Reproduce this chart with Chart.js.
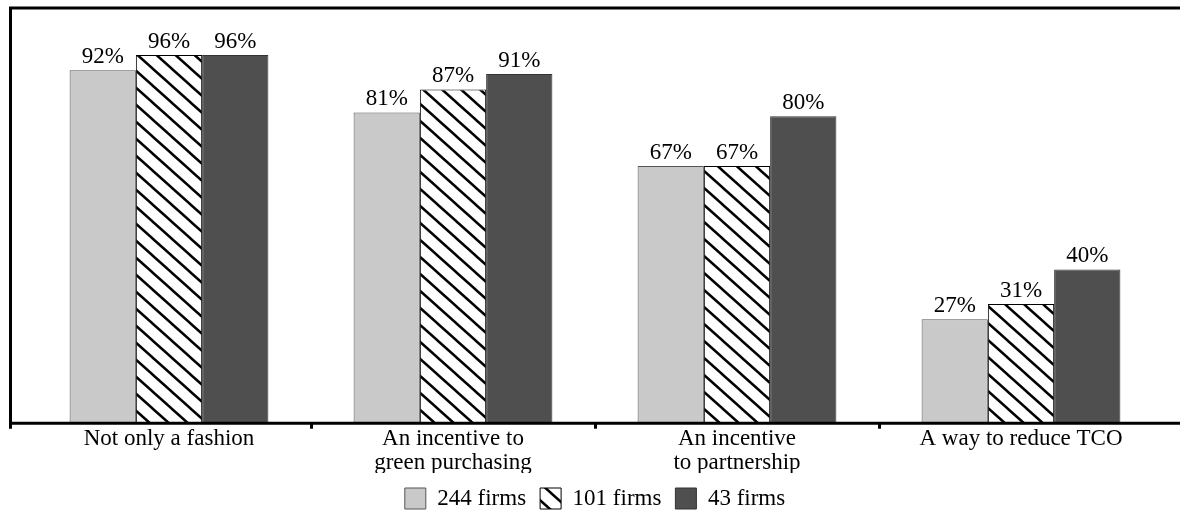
<!DOCTYPE html>
<html>
<head>
<meta charset="utf-8">
<script src="https://cdn.jsdelivr.net/npm/chart.js@4.4.1/dist/chart.umd.min.js"></script>
<style>
  html, body { margin: 0; padding: 0; background: #fff; }
  #wrap { width: 1180px; height: 518px; position: relative; }
</style>
</head>
<body>
<div id="wrap"><canvas id="chart" width="1180" height="518"></canvas></div>
<script>
const categories = [
    ['Not only a fashion'],
    ['An incentive to', 'green purchasing'],
    ['An incentive', 'to partnership'],
    ['A way to reduce TCO']
];
const seriesNames = ['244 firms', '101 firms', '43 firms'];
const firms244 = [92, 81, 67, 27];
const firms101 = [96, 87, 67, 31];
const firms43 = [96, 91, 80, 40];

const FONT = 'Liberation Serif';
Chart.defaults.font.family = FONT;

// diagonal "\" hatch for the middle series
function makeHatch() {
    const tile = document.createElement('canvas');
    const w = 19, h = 17;
    tile.width = w;
    tile.height = h;
    const c = tile.getContext('2d');
    c.fillStyle = '#fff';
    c.fillRect(0, 0, w, h);
    c.strokeStyle = '#000';
    c.lineWidth = 2.5;
    for (const dy of [-h, 0, h]) {
        c.beginPath();
        c.moveTo(-w, -h + dy);
        c.lineTo(2 * w, 2 * h + dy);
        c.stroke();
    }
    return c.createPattern(tile, 'repeat');
}

const frame = {
    id: 'frame',
    afterDatasetsDraw(chart) {
        const {ctx, chartArea} = chart;
        ctx.save();
        ctx.strokeStyle = '#000';
        ctx.lineWidth = 3;
        ctx.beginPath();
        ctx.moveTo(9, 8);
        ctx.lineTo(chart.width, 8);
        ctx.moveTo(10.5, 7);
        ctx.lineTo(10.5, chartArea.bottom + 6);
        ctx.moveTo(9, chartArea.bottom + 0.5);
        ctx.lineTo(chart.width, chartArea.bottom + 0.5);
        ctx.stroke();

        ctx.fillStyle = '#000';
        ctx.font = '23px ' + FONT;
        ctx.textAlign = 'center';
        ctx.textBaseline = 'alphabetic';
        chart.data.datasets.forEach((ds, i) => {
            chart.getDatasetMeta(i).data.forEach((bar, j) => {
                ctx.fillText(ds.data[j] + '%', bar.x, bar.y - 7);
            });
        });
        ctx.restore();
    }
};

const hatch = makeHatch();
new Chart(document.getElementById('chart'), {
    type: 'bar',
    data: {
        labels: categories,
        datasets: [
            {label: seriesNames[0], data: firms244, backgroundColor: '#c9c9c9', borderColor: '#555', borderWidth: 1},
            {label: seriesNames[1], data: firms101, backgroundColor: hatch, borderColor: '#000', borderWidth: 1},
            {label: seriesNames[2], data: firms43, backgroundColor: '#4f4f4f', borderColor: '#333', borderWidth: 1}
        ]
    },
    options: {
        responsive: false,
        animation: false,
        layout: {
            padding: {left: 27, right: 17, top: 9, bottom: -2}
        },
        datasets: {
            bar: {
                categoryPercentage: 0.7,
                barPercentage: 1.0
            }
        },
        scales: {
            x: {
                border: {display: false},
                grid: {
                    drawOnChartArea: false,
                    drawTicks: true,
                    tickLength: 6,
                    tickWidth: 3,
                    tickColor: (c) => (c.type === 'tick' && c.index > 0) ? '#000' : 'rgba(0,0,0,0)'
                },
                ticks: {
                    color: '#000',
                    padding: -2,
                    maxRotation: 0,
                    font: {family: FONT, size: 23, lineHeight: 1.05}
                }
            },
            y: {
                display: false,
                min: 0,
                max: 108
            }
        },
        plugins: {
            tooltip: {enabled: false},
            legend: {
                position: 'bottom',
                labels: {
                    color: '#000',
                    boxWidth: 21,
                    boxHeight: 21,
                    padding: 14,
                    font: {family: FONT, size: 23}
                }
            }
        }
    },
    plugins: [frame]
});
</script>
</body>
</html>
